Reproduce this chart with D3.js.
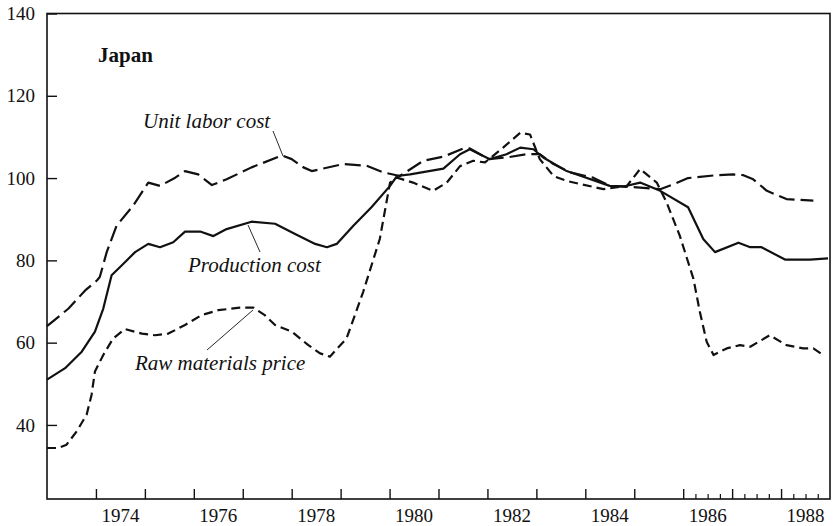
<!DOCTYPE html>
<html>
<head>
<meta charset="utf-8">
<script src="https://d3js.org/d3.v7.min.js"></script>
<style>
    body { margin: 0; background: #fff; }
    svg text { font-family: "Liberation Serif", "Times New Roman", Times, serif; fill: #111; }
    .series { fill: none; stroke: #111; stroke-width: 2.2; stroke-linejoin: round; }
    .leader { stroke: #111; stroke-width: 0.9; }
</style>
</head>
<body>
<div id="chart"></div>
<script>
// quarterly-ish readings, decimal years
var prodYears = [1973.00, 1973.37, 1973.71, 1973.98, 1974.15, 1974.32, 1974.53, 1974.80, 1975.07, 1975.31,
    1975.58, 1975.82, 1976.13, 1976.40, 1976.67, 1977.18, 1977.66, 1978.07, 1978.48, 1978.72,
    1978.92, 1979.26, 1979.63, 1980.01, 1980.15, 1980.42, 1981.10, 1981.44, 1981.64, 1982.05,
    1982.39, 1982.67, 1982.94, 1983.14, 1983.62, 1984.50, 1984.81, 1985.12, 1985.53, 1986.10,
    1986.41, 1986.65, 1987.13, 1987.37, 1987.60, 1988.08, 1988.59, 1988.96];
var prodValues = [51.0, 53.8, 57.8, 62.7, 68.3, 76.4, 78.8, 82.0, 84.0, 83.2,
    84.4, 87.0, 87.0, 85.9, 87.6, 89.4, 88.9, 86.4, 84.0, 83.2,
    84.0, 88.4, 92.9, 98.1, 100.5, 100.9, 102.3, 105.8, 107.0, 104.6,
    105.8, 107.4, 107.0, 105.0, 101.7, 98.1, 98.0, 98.9, 96.9, 92.9,
    85.2, 82.0, 84.3, 83.2, 83.2, 80.2, 80.2, 80.5];

var laborYears = [1973.00, 1973.44, 1973.78, 1974.02, 1974.08, 1974.22, 1974.42, 1974.76, 1975.07, 1975.31,
    1975.62, 1975.82, 1976.09, 1976.37, 1976.67, 1977.18, 1977.80, 1978.00, 1978.24, 1978.41,
    1979.05, 1979.53, 1979.87, 1980.21, 1980.69, 1981.10, 1981.51, 1981.64, 1982.02, 1982.39,
    1982.80, 1983.07, 1983.35, 1983.69, 1984.16, 1984.50, 1985.12, 1985.53, 1985.80, 1986.10,
    1986.68, 1987.02, 1987.23, 1987.43, 1987.71, 1988.11, 1988.66];
var laborValues = [64.0, 68.3, 72.7, 75.1, 76.0, 82.0, 88.4, 93.3, 98.9, 98.1,
    100.1, 101.7, 100.9, 98.3, 99.7, 102.6, 105.5, 104.6, 102.6, 101.7,
    103.4, 103.0, 101.4, 100.5, 104.2, 105.2, 107.2, 107.2, 104.6, 105.0,
    105.8, 105.8, 103.4, 101.4, 100.1, 98.1, 97.7, 97.3, 98.5, 100.0,
    100.7, 100.9, 100.7, 99.7, 96.9, 94.9, 94.5];

var rawYears = [1973.00, 1973.23, 1973.40, 1973.61, 1973.81, 1973.91, 1973.98, 1974.15, 1974.35, 1974.59,
    1974.94, 1975.21, 1975.48, 1975.82, 1976.16, 1976.50, 1976.94, 1977.22, 1977.45, 1977.66,
    1978.00, 1978.34, 1978.58, 1978.78, 1979.12, 1979.46, 1979.80, 1980.01, 1980.15, 1980.48,
    1980.89, 1981.17, 1981.44, 1981.71, 1981.95, 1982.32, 1982.67, 1982.87, 1983.07, 1983.35,
    1983.62, 1984.37, 1984.85, 1985.12, 1985.46, 1985.66, 1985.93, 1986.21, 1986.34, 1986.48,
    1986.62, 1986.89, 1987.16, 1987.37, 1987.77, 1988.11, 1988.45, 1988.66, 1988.86];
var rawValues = [34.4, 34.4, 35.2, 38.5, 42.5, 47.3, 53.0, 57.0, 61.0, 63.3,
    62.2, 61.8, 62.2, 64.3, 66.7, 67.9, 68.5, 68.5, 66.7, 64.3,
    62.7, 59.4, 57.4, 56.6, 61.0, 72.3, 85.2, 98.9, 100.1, 98.9,
    96.9, 98.9, 102.9, 104.2, 103.8, 107.4, 111.0, 110.6, 104.6, 100.5,
    99.3, 97.3, 98.1, 102.2, 98.9, 94.1, 86.0, 75.5, 67.5, 60.2,
    57.0, 58.6, 59.4, 59.0, 61.8, 59.4, 58.6, 58.6, 57.0];

var yTicks = [40, 60, 80, 100, 120, 140];
var yearLabels = [1974, 1976, 1978, 1980, 1982, 1984, 1986, 1988];
var yearTicks = d3.range(1974, 1989);
var quarterTicks = [1986.25, 1986.5, 1986.75, 1987.25, 1987.5, 1987.75, 1988.25, 1988.5, 1988.75];

function CostChart() {
    var self = this;
    self.width = 837;
    self.height = 526;
    self.left = 47; self.right = 830; self.top = 13.5; self.bottom = 499;

    self.x = d3.scaleLinear().domain([1973, 1989]).range([self.left, self.right]);
    self.y = d3.scaleLinear().domain([22, 140]).range([self.bottom, self.top]);

    self.svg = d3.select("#chart").append("svg")
        .attr("width", self.width)
        .attr("height", self.height);
}

CostChart.prototype.drawAxes = function () {
    var self = this;
    var svg = self.svg;

    // frame
    svg.append("rect")
        .attr("x", self.left).attr("y", self.top)
        .attr("width", self.right - self.left)
        .attr("height", self.bottom - self.top)
        .attr("fill", "none").attr("stroke", "#111").attr("stroke-width", 1.6);

    // y axis, ticks point inward
    var yAxis = d3.axisLeft(self.y).tickValues(yTicks).tickSize(-10).tickPadding(12);
    var gy = svg.append("g").attr("transform", "translate(" + self.left + ",0)").call(yAxis);
    gy.select(".domain").remove();
    gy.selectAll("line").attr("stroke", "#111").attr("stroke-width", 1.4);
    gy.selectAll("text").attr("font-size", 19).attr("fill", "#111");

    // x axis: year boundaries, quarters at the end
    var xAxis = d3.axisBottom(self.x).tickValues(yearTicks).tickSize(-10).tickFormat("");
    var gx = svg.append("g").attr("transform", "translate(0," + self.bottom + ")").call(xAxis);
    gx.select(".domain").remove();
    gx.selectAll("line").attr("stroke", "#111").attr("stroke-width", 1.4);

    var xMinor = d3.axisBottom(self.x).tickValues(quarterTicks).tickSize(-5).tickFormat("");
    var gm = svg.append("g").attr("transform", "translate(0," + self.bottom + ")").call(xMinor);
    gm.select(".domain").remove();
    gm.selectAll("line").attr("stroke", "#111").attr("stroke-width", 1.2);

    // year labels sit in the middle of each year
    svg.selectAll("text.yearLabel").data(yearLabels)
        .enter().append("text")
        .attr("class", "yearLabel")
        .attr("x", function (d) { return self.x(d + 0.5); })
        .attr("y", 522)
        .attr("text-anchor", "middle")
        .attr("font-size", 19)
        .text(function (d) { return d; });
};

CostChart.prototype.drawSeries = function () {
    var self = this;
    var line = d3.line()
        .x(function (d) { return self.x(d[0]); })
        .y(function (d) { return self.y(d[1]); });

    var series = [
        {name: "raw", pts: d3.zip(rawYears, rawValues), dash: "9,5"},
        {name: "labor", pts: d3.zip(laborYears, laborValues), dash: "16,6"},
        {name: "prod", pts: d3.zip(prodYears, prodValues), dash: null}
    ];

    self.svg.selectAll("path.series").data(series)
        .enter().append("path")
        .attr("class", "series")
        .attr("d", function (d) { return line(d.pts); })
        .attr("stroke-dasharray", function (d) { return d.dash; });
};

CostChart.prototype.drawLabels = function () {
    var self = this;
    var svg = self.svg;

    svg.append("text")
        .attr("x", 98).attr("y", 62)
        .attr("font-size", 21).attr("font-weight", "bold")
        .text("Japan");

    var notes = [
        {text: "Unit labor cost", x: 143, y: 128, lx1: 273, ly1: 131, lx2: 283, ly2: 156},
        {text: "Production cost", x: 188, y: 272, lx1: 260, ly1: 252, lx2: 248, ly2: 225},
        {text: "Raw materials price", x: 135, y: 370, lx1: 207, ly1: 350, lx2: 253, ly2: 310}
    ];

    svg.selectAll("text.note").data(notes)
        .enter().append("text")
        .attr("class", "note")
        .attr("x", function (d) { return d.x; })
        .attr("y", function (d) { return d.y; })
        .attr("font-size", 21)
        .attr("font-style", "italic")
        .text(function (d) { return d.text; });

    svg.selectAll("line.leader").data(notes)
        .enter().append("line")
        .attr("class", "leader")
        .attr("x1", function (d) { return d.lx1; })
        .attr("y1", function (d) { return d.ly1; })
        .attr("x2", function (d) { return d.lx2; })
        .attr("y2", function (d) { return d.ly2; });
};

var chart = new CostChart();
chart.drawAxes();
chart.drawSeries();
chart.drawLabels();
</script>
</body>
</html>
